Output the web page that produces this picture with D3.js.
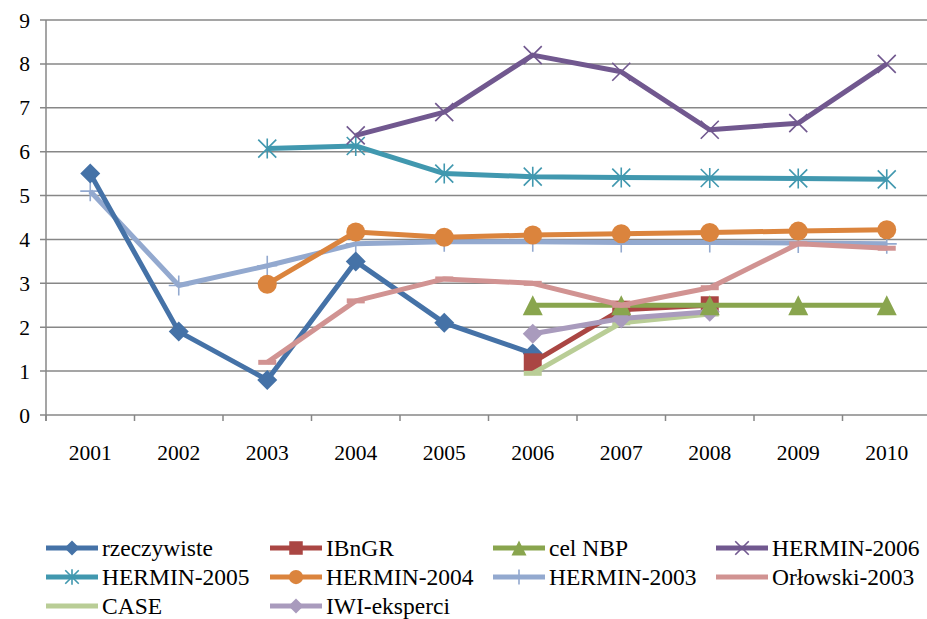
<!DOCTYPE html>
<html><head><meta charset="utf-8">
<script src="https://cdn.jsdelivr.net/npm/d3@7"></script>
<style>body{margin:0;background:#fff}svg{display:block}text{font-family:"Liberation Serif","Times New Roman",serif}</style>
</head><body>
<svg id="c" width="927" height="619"></svg>
<script>
const years = ["2001","2002","2003","2004","2005","2006","2007","2008","2009","2010"];
const yTicks = [0,1,2,3,4,5,6,7,8,9];
const rzeczywiste = [5.5,1.9,0.8,3.5,2.1,1.4,null,null,null,null];
const ibngr = [null,null,null,null,null,1.2,2.4,2.5,null,null];
const celNBP = [null,null,null,null,null,2.5,2.5,2.5,2.5,2.5];
const hermin2006 = [null,null,null,6.37,6.9,8.2,7.82,6.5,6.65,8.0];
const hermin2005 = [null,null,6.07,6.13,5.5,5.43,5.41,5.4,5.39,5.37];
const hermin2004 = [null,null,2.98,4.17,4.05,4.1,4.13,4.16,4.19,4.22];
const hermin2003 = [5.1,2.95,3.4,3.9,3.95,3.95,3.93,3.93,3.92,3.9];
const orlowski2003 = [null,null,1.2,2.6,3.1,3.0,2.5,2.9,3.9,3.8];
const caseSeries = [null,null,null,null,null,0.95,2.1,2.3,null,null];
const iwi = [null,null,null,null,null,1.85,2.2,2.35,null,null];

const series = [
 {name:"rzeczywiste", values:rzeczywiste, color:"#4572A7", marker:"diamond"},
 {name:"IBnGR", values:ibngr, color:"#AA4643", marker:"square"},
 {name:"cel NBP", values:celNBP, color:"#89A54E", marker:"triangle"},
 {name:"HERMIN-2006", values:hermin2006, color:"#71588F", marker:"x"},
 {name:"HERMIN-2005", values:hermin2005, color:"#4198AF", marker:"star"},
 {name:"HERMIN-2004", values:hermin2004, color:"#DB843D", marker:"circle"},
 {name:"HERMIN-2003", values:hermin2003, color:"#93A9CF", marker:"plus"},
 {name:"Orłowski-2003", values:orlowski2003, color:"#D19392", marker:"dash"},
 {name:"CASE", values:caseSeries, color:"#B9CD96", marker:"dash"},
 {name:"IWI-eksperci", values:iwi, color:"#A99BBD", marker:"diamond"}
];
const drawOrder = [6,0,1,8,9,2,7,5,4,3];

const svg = d3.select("#c");
const x = d3.scaleBand().domain(years).range([46, 931]);
const y = d3.scaleLinear().domain([0,9]).range([415, 20]);
const cx = d => x(d) + x.bandwidth()/2;
const grid = "#878787";

svg.append("g").selectAll("line").data(yTicks).join("line")
 .attr("x1", 40).attr("x2", 927).attr("y1", d=>y(d)).attr("y2", d=>y(d))
 .attr("stroke", grid).attr("stroke-width", 1.5);
svg.append("line").attr("x1",46).attr("x2",46).attr("y1",y(9)).attr("y2",421)
 .attr("stroke", grid).attr("stroke-width", 1.5);
const bounds = years.map(d=>x(d)).concat([x.range()[1]]);
svg.append("g").selectAll("line").data(bounds).join("line")
 .attr("x1",d=>d).attr("x2",d=>d).attr("y1",415).attr("y2",421)
 .attr("stroke", grid).attr("stroke-width", 1.5);
svg.append("g").selectAll("text").data(yTicks).join("text")
 .attr("x", 30).attr("y", d=>y(d)).attr("dy","0.35em")
 .attr("text-anchor","end").attr("font-size",21.5)
 .text(d=>d);
svg.append("g").selectAll("text").data(years).join("text")
 .attr("x", d=>cx(d)).attr("y", 452).attr("dy","0.35em")
 .attr("text-anchor","middle").attr("font-size",21.5)
 .text(d=>d);

function drawMarker(g, type, px, py, color, s) {
 s = s || 1;
 if (type==="diamond") {
  const r = 10*s;
  g.append("path").attr("d",`M${px},${py-r}L${px+r},${py}L${px},${py+r}L${px-r},${py}Z`).attr("fill",color);
 } else if (type==="square") {
  const r = 9*s;
  g.append("rect").attr("x",px-r).attr("y",py-r).attr("width",2*r).attr("height",2*r).attr("fill",color);
 } else if (type==="triangle") {
  const r = 10*s;
  g.append("path").attr("d",`M${px},${py-r}L${px+r},${py+r}L${px-r},${py+r}Z`).attr("fill",color);
 } else if (type==="circle") {
  g.append("circle").attr("cx",px).attr("cy",py).attr("r",9.5*s).attr("fill",color);
 } else if (type==="x") {
  const r = 9*s;
  g.append("path").attr("d",`M${px-r},${py-r}L${px+r},${py+r}M${px-r},${py+r}L${px+r},${py-r}`)
   .attr("stroke",color).attr("stroke-width",1.6).attr("fill","none");
 } else if (type==="star") {
  const r = 9*s;
  g.append("path").attr("d",`M${px-r},${py-r}L${px+r},${py+r}M${px-r},${py+r}L${px+r},${py-r}M${px},${py-r-1}L${px},${py+r+1}`)
   .attr("stroke",color).attr("stroke-width",1.6).attr("fill","none");
 } else if (type==="plus") {
  const r = 10*s;
  g.append("path").attr("d",`M${px-r},${py}L${px+r},${py}M${px},${py-r}L${px},${py+r}`)
   .attr("stroke",color).attr("stroke-width",1.6).attr("fill","none");
 } else if (type==="dash") {
  const r = 9*s;
  g.append("path").attr("d",`M${px-r},${py}L${px+r},${py}`)
   .attr("stroke",color).attr("stroke-width",5).attr("fill","none");
 }
}

const line = d3.line().defined(d=>d.v!=null).x(d=>cx(d.year)).y(d=>y(d.v));
const plot = svg.append("g");
drawOrder.forEach(i=>{
 const s = series[i];
 const pts = years.map((yr,k)=>({year:yr, v:s.values[k]}));
 const g = plot.append("g");
 g.append("path").datum(pts).attr("d", line).attr("fill","none")
  .attr("stroke", s.color).attr("stroke-width", 5).attr("stroke-linejoin","round");
 pts.filter(p=>p.v!=null).forEach(p=>drawMarker(g, s.marker, cx(p.year), y(p.v), s.color, 1));
});

const cols = [46, 270, 493, 716];
const rows = [548, 577, 606];
series.forEach((s,i)=>{
 const lx = cols[i%4], ly = rows[Math.floor(i/4)];
 const g = svg.append("g");
 g.append("line").attr("x1",lx).attr("x2",lx+52).attr("y1",ly).attr("y2",ly)
  .attr("stroke",s.color).attr("stroke-width",5);
 if (s.marker!=="dash") drawMarker(g, s.marker, lx+26, ly, s.color, 0.75);
 g.append("text").attr("x", lx+56).attr("y", ly).attr("dy","0.35em")
  .attr("font-size",23.5).text(s.name);
});
</script>
</body></html>
